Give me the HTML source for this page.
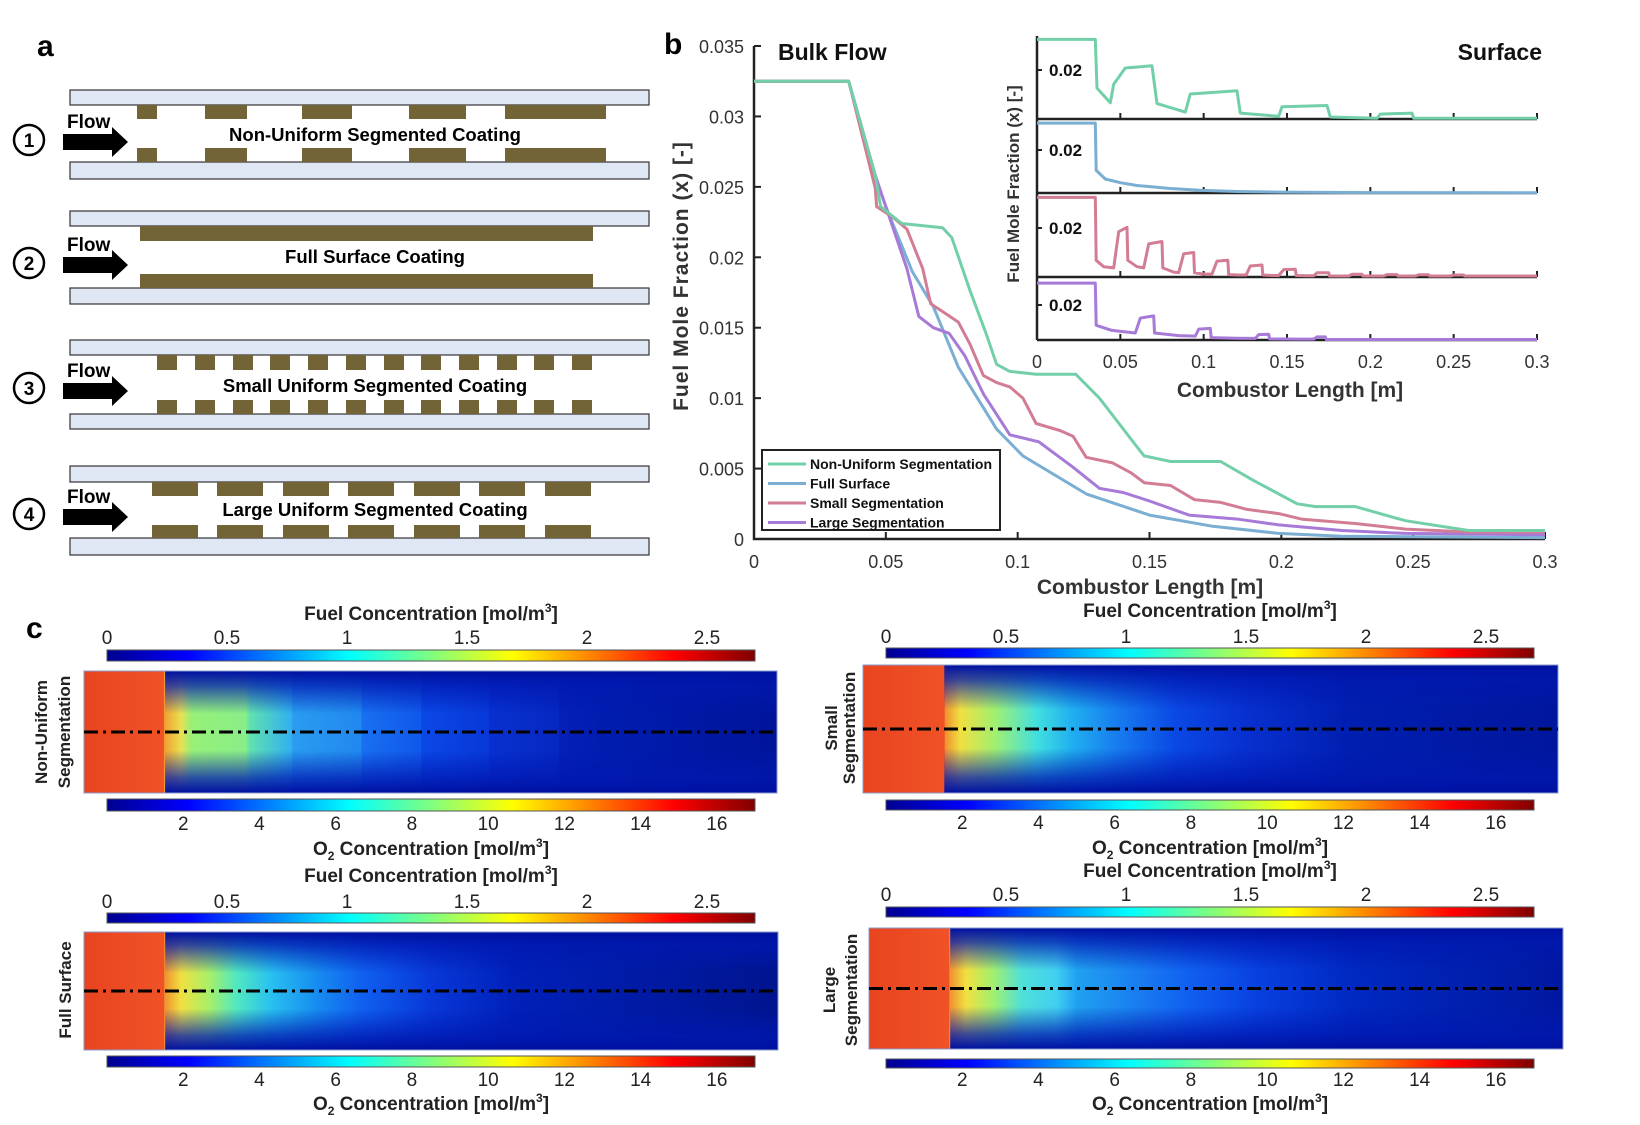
<!DOCTYPE html>
<html><head><meta charset="utf-8"><style>
html,body{margin:0;padding:0;background:#fff}
svg{display:block}
text{font-family:"Liberation Sans",sans-serif}
.nar{font-family:"Liberation Sans Narrow","Liberation Sans",sans-serif}
</style></head><body>
<svg id="fig" width="1640" height="1125" viewBox="0 0 1640 1125" xmlns="http://www.w3.org/2000/svg">
<defs>
<linearGradient id="jet" x1="0" x2="1" y1="0" y2="0">
<stop offset="0" stop-color="#00008f"/><stop offset="0.125" stop-color="#0000ff"/><stop offset="0.375" stop-color="#00ffff"/><stop offset="0.625" stop-color="#ffff00"/><stop offset="0.875" stop-color="#ff0000"/><stop offset="1" stop-color="#800000"/>
</linearGradient>
<linearGradient id="h1" x1="0" x2="1" y1="0" y2="0">
<stop offset="0" stop-color="#e84420"/><stop offset="0.115" stop-color="#f05226"/><stop offset="0.116" stop-color="#f0a030"/><stop offset="0.14" stop-color="#e8e050"/><stop offset="0.155" stop-color="#98f078"/><stop offset="0.233" stop-color="#88ee88"/><stop offset="0.24" stop-color="#60e0b0"/><stop offset="0.30" stop-color="#30b0f0"/><stop offset="0.301" stop-color="#2a9cf0"/><stop offset="0.40" stop-color="#2088f0"/><stop offset="0.401" stop-color="#1870f0"/><stop offset="0.486" stop-color="#1058ea"/><stop offset="0.487" stop-color="#0a48e6"/><stop offset="0.584" stop-color="#0838d8"/><stop offset="0.585" stop-color="#0830d0"/><stop offset="0.685" stop-color="#0628c0"/><stop offset="0.686" stop-color="#0420b8"/><stop offset="0.75" stop-color="#001cb0"/><stop offset="1" stop-color="#00149a"/>
</linearGradient>
<linearGradient id="h2" x1="0" x2="1" y1="0" y2="0">
<stop offset="0" stop-color="#e84420"/><stop offset="0.117" stop-color="#f05226"/><stop offset="0.118" stop-color="#f09030"/><stop offset="0.14" stop-color="#f0e040"/><stop offset="0.19" stop-color="#a0f070"/><stop offset="0.25" stop-color="#40e0e0"/><stop offset="0.30" stop-color="#20b0f0"/><stop offset="0.36" stop-color="#1880f0"/><stop offset="0.45" stop-color="#0a48e4"/><stop offset="0.55" stop-color="#0830d0"/><stop offset="0.70" stop-color="#001eb0"/><stop offset="1" stop-color="#00169c"/>
</linearGradient>
<linearGradient id="h3" x1="0" x2="1" y1="0" y2="0">
<stop offset="0" stop-color="#e84420"/><stop offset="0.115" stop-color="#f05226"/><stop offset="0.116" stop-color="#f09030"/><stop offset="0.14" stop-color="#f0e040"/><stop offset="0.18" stop-color="#a8f068"/><stop offset="0.22" stop-color="#50e8c0"/><stop offset="0.27" stop-color="#28c0f0"/><stop offset="0.33" stop-color="#1890f0"/><stop offset="0.40" stop-color="#1060f0"/><stop offset="0.50" stop-color="#0838d8"/><stop offset="0.62" stop-color="#0020b8"/><stop offset="1" stop-color="#00148f"/>
</linearGradient>
<linearGradient id="h4" x1="0" x2="1" y1="0" y2="0">
<stop offset="0" stop-color="#e84420"/><stop offset="0.115" stop-color="#f05226"/><stop offset="0.116" stop-color="#f09030"/><stop offset="0.14" stop-color="#f0e040"/><stop offset="0.18" stop-color="#a0f070"/><stop offset="0.22" stop-color="#50e0d8"/><stop offset="0.27" stop-color="#40d0f0"/><stop offset="0.30" stop-color="#20a0f0"/><stop offset="0.40" stop-color="#1878f0"/><stop offset="0.46" stop-color="#1060f0"/><stop offset="0.56" stop-color="#0840e0"/><stop offset="0.70" stop-color="#0028c0"/><stop offset="1" stop-color="#0018a0"/>
</linearGradient>
<linearGradient id="wall" x1="0" x2="0" y1="0" y2="1">
<stop offset="0" stop-color="#0010a0" stop-opacity="1"/><stop offset="0.12" stop-color="#0018b0" stop-opacity="0.75"/><stop offset="0.35" stop-color="#0018b0" stop-opacity="0"/><stop offset="0.65" stop-color="#0018b0" stop-opacity="0"/><stop offset="0.88" stop-color="#0018b0" stop-opacity="0.75"/><stop offset="1" stop-color="#0010a0" stop-opacity="1"/>
</linearGradient>
</defs>

<text x="37" y="56" font-size="30" font-weight="bold">a</text>
<g id="schem"></g>

<text x="664" y="54" font-size="30" font-weight="bold">b</text>
<g id="mainChart"></g>
<g id="insetChart"></g>

<text x="26" y="638" font-size="30" font-weight="bold">c</text>
<g id="maps"></g>
</svg>
<script>
// ---------- main chart data ----------
const seriesNames = ["Non-Uniform Segmentation","Full Surface","Small Segmentation","Large Segmentation"];
const seriesColors = ["#72cfa8","#7aaed2","#d27d93","#a77ad8"];
const xTicks = [0,0.05,0.1,0.15,0.2,0.25,0.3];
const xTickLabels = ["0","0.05","0.1","0.15","0.2","0.25","0.3"];
const yTicks = [0,0.005,0.01,0.015,0.02,0.025,0.03,0.035];
const yTickLabels = ["0","0.005","0.01","0.015","0.02","0.025","0.03","0.035"];
const greenX = [0,0.0359,0.046,0.048,0.056,0.0715,0.075,0.082,0.088,0.092,0.097,0.107,0.122,0.131,0.145,0.148,0.158,0.177,0.189,0.206,0.213,0.228,0.247,0.271,0.3];
const greenY = [0.0325,0.0325,0.0258,0.0236,0.0224,0.0221,0.0214,0.0176,0.0146,0.0124,0.0119,0.0117,0.0117,0.0100,0.0066,0.0059,0.0055,0.0055,0.0042,0.0025,0.0023,0.0023,0.0013,0.0006,0.0006];
const blueX = [0,0.0359,0.046,0.05,0.06,0.068,0.0775,0.092,0.102,0.126,0.150,0.174,0.199,0.223,0.3];
const blueY = [0.0325,0.0325,0.0258,0.0236,0.019,0.0165,0.0122,0.0078,0.0059,0.0032,0.0017,0.0009,0.0004,0.0002,0.0001];
const redX = [0,0.0359,0.046,0.0465,0.053,0.058,0.064,0.067,0.0727,0.0775,0.082,0.087,0.092,0.097,0.102,0.107,0.116,0.121,0.126,0.136,0.143,0.148,0.158,0.167,0.177,0.187,0.199,0.208,0.228,0.247,0.271,0.3];
const redY = [0.0325,0.0325,0.0249,0.0236,0.0228,0.022,0.0192,0.0167,0.016,0.0154,0.0138,0.0116,0.0111,0.0108,0.0100,0.0082,0.0077,0.0073,0.0058,0.0054,0.0047,0.0040,0.0038,0.0028,0.0026,0.0021,0.0018,0.0014,0.0011,0.0007,0.0005,0.0005];
const purpleX = [0,0.0359,0.046,0.05,0.058,0.0625,0.068,0.074,0.080,0.087,0.097,0.108,0.121,0.131,0.140,0.150,0.165,0.184,0.199,0.223,0.247,0.3];
const purpleY = [0.0325,0.0325,0.0258,0.0236,0.0192,0.0158,0.0150,0.0146,0.0130,0.0103,0.0074,0.0069,0.0051,0.0036,0.0033,0.0027,0.0017,0.0014,0.0010,0.0006,0.0004,0.0003];

// ---------- inset data ----------
const insetTickLabel = "0.02";
const s1X = [0,0.035,0.036,0.044,0.046,0.053,0.069,0.072,0.089,0.092,0.120,0.122,0.145,0.147,0.174,0.176,0.204,0.206,0.225,0.226,0.3];
const s1Y = [0.0325,0.0325,0.0126,0.0066,0.0142,0.0208,0.0217,0.0063,0.0028,0.0102,0.0115,0.0024,0.0011,0.0050,0.0055,0.0008,0.0003,0.0020,0.0024,0.0003,0.0003];
const s2X = [0,0.035,0.0355,0.041,0.050,0.060,0.080,0.099,0.12,0.145,0.2,0.3];
const s2Y = [0.0325,0.0325,0.0105,0.0065,0.0048,0.0035,0.0021,0.0012,0.0007,0.0004,0.0002,0.0001];
const s3X = [0,0.035,0.0355,0.040,0.046,0.049,0.054,0.0545,0.060,0.064,0.067,0.075,0.0755,0.082,0.085,0.088,0.094,0.0945,0.100,0.105,0.108,0.1145,0.115,0.121,0.1255,0.128,0.135,0.1355,0.142,0.145,0.148,0.155,0.1555,0.162,0.166,0.168,0.175,0.1755,0.187,0.189,0.195,0.1955,0.208,0.210,0.216,0.2165,0.227,0.229,0.235,0.2355,0.248,0.25,0.256,0.2565,0.3];
const s3Y = [0.0325,0.0325,0.0068,0.0042,0.0037,0.0185,0.0203,0.0068,0.0042,0.0037,0.0135,0.0145,0.0037,0.0020,0.0018,0.0095,0.0100,0.0017,0.0012,0.0012,0.0065,0.0068,0.0010,0.0008,0.0008,0.0045,0.0049,0.0008,0.0006,0.0006,0.0030,0.0032,0.0006,0.0005,0.0005,0.0017,0.0017,0.0004,0.0004,0.0011,0.0011,0.0004,0.0004,0.0010,0.0010,0.0004,0.0004,0.0009,0.0009,0.0004,0.0004,0.0008,0.0008,0.0004,0.0004];
const s4X = [0,0.035,0.0355,0.045,0.059,0.062,0.070,0.0705,0.085,0.095,0.097,0.104,0.1045,0.120,0.131,0.133,0.139,0.1395,0.155,0.166,0.168,0.173,0.1735,0.3];
const s4Y = [0.0325,0.0325,0.0084,0.0055,0.0040,0.0125,0.0138,0.0040,0.0025,0.0022,0.0062,0.0066,0.0014,0.0010,0.0009,0.0031,0.0033,0.0006,0.0005,0.0005,0.0018,0.0018,0.0003,0.0003];

const NS="http://www.w3.org/2000/svg";
function mk(tag, attrs, parent){const e=document.createElementNS(NS,tag);for(const k in attrs)e.setAttribute(k,attrs[k]);parent.appendChild(e);return e;}

(function(){
  const g=document.getElementById('mainChart');
  const X0=754,X1=1545,Y0=539,Y1=46;
  const X=v=>X0+v/0.3*(X1-X0);
  const Y=v=>Y0-v/0.035*(Y0-Y1);
  const ax=mk('path',{d:`M${X0},${Y1} L${X0},${Y0} L${X1},${Y0}`,fill:'none',stroke:'#222','stroke-width':2.5},g);
  
  
  yTicks.forEach((t,i)=>{
    mk('line',{x1:X0,y1:Y(t),x2:X0+7,y2:Y(t),stroke:'#222','stroke-width':2},g);
    const tx=mk('text',{x:X0-10,y:Y(t)+7,'font-size':18,'text-anchor':'end',fill:'#333'},g);
    tx.textContent=yTickLabels[i];
    
    
  });
  xTicks.forEach((t,i)=>{
    mk('line',{x1:X(t),y1:Y0,x2:X(t),y2:Y0-7,stroke:'#222','stroke-width':2},g);
    const tx=mk('text',{x:X(t),y:Y0+29,'font-size':18,'text-anchor':'middle',fill:'#333'},g);
    tx.textContent=xTickLabels[i];
    
    
  });
  const xs=[greenX,blueX,redX,purpleX], ys=[greenY,blueY,redY,purpleY];
  [1,3,2,0].forEach(s=>{
    const d=xs[s].map((x,i)=>(i?'L':'M')+X(x).toFixed(1)+','+Y(ys[s][i]).toFixed(1)).join(' ');
    const p=mk('path',{d:d,fill:'none',stroke:seriesColors[s],'stroke-width':3,'stroke-linejoin':'round'},g);
    
    
  });
  const yl=mk('text',{x:0,y:0,'font-size':21,'font-weight':'bold','text-anchor':'middle',fill:'#333',transform:'translate(688,276) rotate(-90)','letter-spacing':'1'},g);
  yl.textContent='Fuel Mole Fraction (x) [-]';
  
  
  const xl=mk('text',{x:1150,y:594,'font-size':21,'font-weight':'bold','text-anchor':'middle',fill:'#333'},g);
  xl.textContent='Combustor Length [m]';
  
  
  const bf=mk('text',{x:778,y:60,'font-size':23,'font-weight':'bold',fill:'#111'},g);
  bf.textContent='Bulk Flow';
  
  
  const lg=mk('g',{},g);
  
  
  mk('rect',{x:762,y:450,width:238,height:80,fill:'#fff',stroke:'#222','stroke-width':2},lg);
  seriesNames.forEach((n,i)=>{
    const y=464+i*19.5;
    mk('line',{x1:768,y1:y,x2:806,y2:y,stroke:seriesColors[i],'stroke-width':3},lg);
    const t=mk('text',{x:810,y:y+5,'font-size':14,'font-weight':'bold',fill:'#111'},lg);
    t.textContent=n;
    
    
  });
})();

(function(){
  const g=document.getElementById('insetChart');
  const X0=1037,X1=1537;
  const IX=v=>X0+v/0.3*(X1-X0);
  const base=[119,193,277,340], per=[49,43,49,35];
  const xs=[s1X,s2X,s3X,s4X], ys=[s1Y,s2Y,s3Y,s4Y];
  mk('line',{x1:X0,y1:36,x2:X0,y2:base[3],stroke:'#222','stroke-width':2.5},g);
  for(let p=0;p<4;p++){
    const IY=v=>base[p]-v/0.02*per[p];
    mk('line',{x1:X0,y1:base[p],x2:X1,y2:base[p],stroke:'#222','stroke-width':2.5},g);
    xTicks.forEach(t=>mk('line',{x1:IX(t),y1:base[p],x2:IX(t),y2:base[p]-6,stroke:'#222','stroke-width':2},g));
    mk('line',{x1:X0,y1:IY(0.02),x2:X0+5,y2:IY(0.02),stroke:'#222','stroke-width':2},g);
    const tl=mk('text',{x:X0+12,y:IY(0.02)+6,'font-size':17,'font-weight':'bold',fill:'#111'},g);
    tl.textContent=insetTickLabel;
    
    
    const d=xs[p].map((x,i)=>(i?'L':'M')+IX(x).toFixed(1)+','+IY(ys[p][i]).toFixed(1)).join(' ');
    const pl=mk('path',{d:d,fill:'none',stroke:seriesColors[p],'stroke-width':3,'stroke-linejoin':'round'},g);
    
    
  }
  xTicks.forEach((t,i)=>{
    const tx=mk('text',{x:IX(t),y:368,'font-size':18,'text-anchor':'middle',fill:'#333'},g);
    tx.textContent=xTickLabels[i];
    
    
  });
  const xl=mk('text',{x:1290,y:397,'font-size':21,'font-weight':'bold','text-anchor':'middle',fill:'#333'},g);
  xl.textContent='Combustor Length [m]';
  
  
  const yl=mk('text',{x:0,y:0,'font-size':17,'font-weight':'bold','text-anchor':'middle',fill:'#333',transform:'translate(1019,184) rotate(-90)'},g);
  yl.textContent='Fuel Mole Fraction (x) [-]';
  
  
  const st=mk('text',{x:1542,y:60,'font-size':23,'font-weight':'bold','text-anchor':'end',fill:'#111'},g);
  st.textContent='Surface';
  
  
})();

(function(){
  const g=document.getElementById('schem');
  const rows=[
    {n:'1',label:'Non-Uniform Segmented Coating',pt:[90,105],st:[105,119],sb:[148,162],pb:[162,179],cy:140,fy:128,ay:142,ty:141,
     segs:[[137,157],[205,247],[302,352],[409,466],[505,606]]},
    {n:'2',label:'Full Surface Coating',pt:[211,226],st:[226,241],sb:[274,288],pb:[288,304],cy:263,fy:251,ay:265,ty:263},
    {n:'3',label:'Small Uniform Segmented Coating',pt:[340,355],st:[355,370],sb:[400,414],pb:[414,429],cy:388,fy:377,ay:391,ty:392,
     segs:[[157,177],[195,215],[233,253],[270,290],[308,328],[346,366],[384,404],[421,441],[459,479],[497,517],[534,554],[572,592]]},
    {n:'4',label:'Large Uniform Segmented Coating',pt:[466,482],st:[482,496],sb:[525,538],pb:[538,555],cy:514,fy:503,ay:517,ty:516,
     segs:[[152,198],[217,263],[283,329],[348,394],[414,460],[479,525],[545,591]]}
  ];
  rows[1].segs=[[140,593]];
  rows.forEach((r,i)=>{
    const rg=mk('g',{},g);
    
    
    mk('rect',{x:70,y:r.pt[0],width:579,height:r.pt[1]-r.pt[0],fill:'#dfe7f4',stroke:'#333','stroke-width':1.2},rg);
    mk('rect',{x:70,y:r.pb[0],width:579,height:r.pb[1]-r.pb[0],fill:'#dfe7f4',stroke:'#333','stroke-width':1.2},rg);
    r.segs.forEach(s=>{
      mk('rect',{x:s[0],y:r.st[0],width:s[1]-s[0],height:r.st[1]-r.st[0],fill:'#736437'},rg);
      mk('rect',{x:s[0],y:r.sb[0],width:s[1]-s[0],height:r.sb[1]-r.sb[0],fill:'#736437'},rg);
    });
    mk('circle',{cx:29,cy:r.cy,r:15,fill:'#fff',stroke:'#000','stroke-width':2.5},rg);
    const ct=mk('text',{x:29,y:r.cy+7,'font-size':19,'font-weight':'bold','text-anchor':'middle'},rg);
    ct.textContent=r.n;
    
    
    const ay=r.ay;
    const ar=mk('path',{d:`M63,${ay-8} L112,${ay-8} L112,${ay-15} L128,${ay} L112,${ay+15} L112,${ay+8} L63,${ay+8} Z`,fill:'#000'},rg);
    
    
    const ft=mk('text',{x:67,y:r.fy,'font-size':19,'font-weight':'bold',class:'nar'},rg);
    ft.textContent='Flow';
    
    
    const lt=mk('text',{x:375,y:r.ty,'font-size':18.5,'font-weight':'bold','text-anchor':'middle',class:'nar'},rg);
    lt.textContent=r.label;
    
    
  });
})();

const fuelTicks=[0,0.5,1,1.5,2,2.5];
const fuelTickLabels=["0","0.5","1","1.5","2","2.5"];
const o2Ticks=[2,4,6,8,10,12,14,16];
const o2TickLabels=["2","4","6","8","10","12","14","16"];
(function(){
  const g=document.getElementById('maps');
  const maps=[
    {grad:'h1',side:['Non-Uniform','Segmentation'],sx:[41,64],sy:732,cbx:[107,755],t1:613,tk1:637,cb1:[650,661],hm:[84,777,671,793],cb2:[799,811],tk2:823,t2:848},
    {grad:'h2',side:['Small','Segmentation'],sx:[831,849],sy:728,cbx:[886,1534],t1:610,tk1:636,cb1:[648,658],hm:[863,1558,665,793],cb2:[800,810],tk2:822,t2:847},
    {grad:'h3',side:['Full Surface'],sx:[65],sy:990,cbx:[107,755],t1:875,tk1:901,cb1:[913,923],hm:[84,778,932,1050],cb2:[1056,1067],tk2:1079,t2:1103},
    {grad:'h4',side:['Large','Segmentation'],sx:[829,851],sy:990,cbx:[886,1534],t1:870,tk1:894,cb1:[907,917],hm:[869,1563,928,1049],cb2:[1059,1068],tk2:1079,t2:1103}
  ];
  maps.forEach((m,i)=>{
    const mg=mk('g',{},g);
    
    
    const [cx0,cx1]=m.cbx, cw=cx1-cx0, cmid=(cx0+cx1)/2;
    const t1=mk('text',{x:cmid,y:m.t1+7,'font-size':19,'font-weight':'bold','text-anchor':'middle',class:'nar',fill:'#222'},mg);
    t1.innerHTML='Fuel Concentration [mol/m<tspan font-size="12" dy="-8">3</tspan><tspan dy="8">]</tspan>';
    
    
    const c1=mk('rect',{x:cx0,y:m.cb1[0],width:cw,height:m.cb1[1]-m.cb1[0],fill:'url(#jet)',stroke:'#555','stroke-width':1},mg);
    
    
    fuelTicks.forEach((t,k)=>{
      const x=cx0+t/2.7*cw;
      const tx=mk('text',{x:x,y:m.tk1+7,'font-size':19,'text-anchor':'middle',class:'nar',fill:'#222'},mg);
      tx.textContent=fuelTickLabels[k];
      
      
    });
    const [hx0,hx1,hy0,hy1]=m.hm;
    const hm=mk('rect',{x:hx0,y:hy0,width:hx1-hx0,height:hy1-hy0,fill:'url(#'+m.grad+')'},mg);
    
    
    const rx=hx0+(hx1-hx0)*0.117;
    mk('rect',{x:rx,y:hy0,width:hx1-rx,height:hy1-hy0,fill:'url(#wall)'},mg);
    mk('rect',{x:hx0,y:hy0,width:hx1-hx0,height:hy1-hy0,fill:'none',stroke:'#8899cc','stroke-width':1},mg);
    const cl=mk('line',{x1:hx0,y1:(hy0+hy1)/2,x2:hx1,y2:(hy0+hy1)/2,stroke:'#000','stroke-width':3,'stroke-dasharray':'14,5,3,5'},mg);
    
    
    const c2=mk('rect',{x:cx0,y:m.cb2[0],width:cw,height:m.cb2[1]-m.cb2[0],fill:'url(#jet)',stroke:'#555','stroke-width':1},mg);
    
    
    o2Ticks.forEach((t,k)=>{
      const x=cx0+t/17*cw;
      const tx=mk('text',{x:x,y:m.tk2+7,'font-size':19,'text-anchor':'middle',class:'nar',fill:'#222'},mg);
      tx.textContent=o2TickLabels[k];
      
      
    });
    const t2=mk('text',{x:cmid,y:m.t2+7,'font-size':19,'font-weight':'bold','text-anchor':'middle',class:'nar',fill:'#222'},mg);
    t2.innerHTML='O<tspan font-size="12" dy="5">2</tspan><tspan dy="-5"> Concentration [mol/m</tspan><tspan font-size="12" dy="-8">3</tspan><tspan dy="8">]</tspan>';
    
    
    m.side.forEach((s,k)=>{
      const st=mk('text',{x:0,y:0,'font-size':17,'font-weight':'bold','text-anchor':'middle',fill:'#222',transform:`translate(${m.sx[k]+6},${m.sy}) rotate(-90)`},mg);
      st.textContent=s;
      
      
    });
  });
})();
</script>
</body></html>
